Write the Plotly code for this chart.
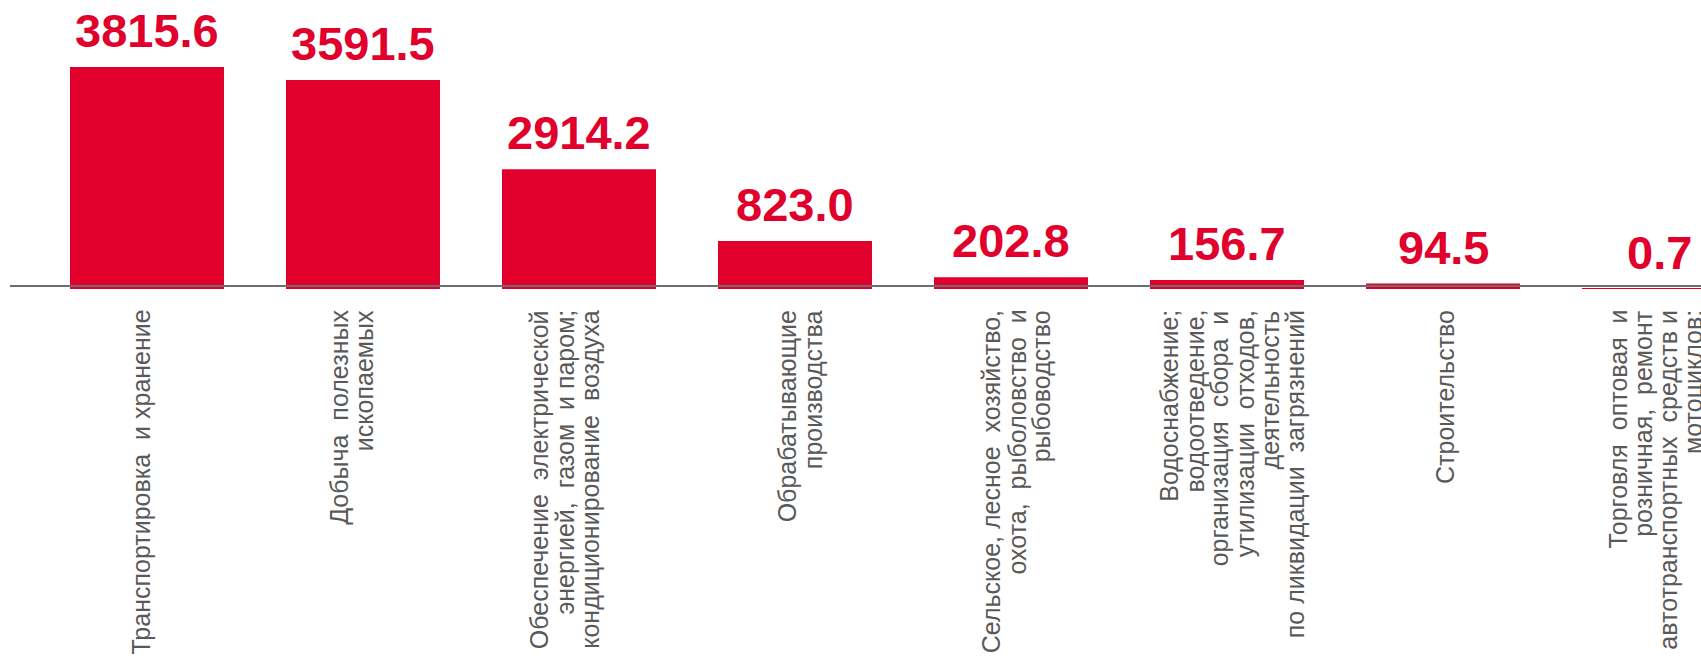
import plotly.graph_objects as go

# ---- data ----
categories = [
    "Транспортировка  и хранение",
    "Добыча  полезных\nископаемых",
    "Обеспечение  электрической\nэнергией,  газом  и паром;\nкондиционирование  воздуха",
    "Обрабатывающие\nпроизводства",
    "Сельское, лесное  хозяйство,\nохота,  рыболовство  и\nрыбоводство",
    "Водоснабжение;\nводоотведение,\nорганизация  сбора  и\nутилизации  отходов,\nдеятельность\nпо ликвидации  загрязнений",
    "Строительство",
    "Торговля  оптовая  и\nрозничная,  ремонт\nавтотранспортных  средств и\nмотоциклов;",
]
# bar heights as drawn in the picture
bar_values = [3815.6, 3591.5, 2060.0, 823.0, 202.8, 156.7, 94.5, 0.7]
# value labels as printed above the bars
value_labels = ["3815.6", "3591.5", "2914.2", "823.0", "202.8", "156.7", "94.5", "0.7"]

# ---- style ----
RED = "#e0002b"
GRAY_TXT = "#595959"
FONT = "Liberation Sans, Arial, sans-serif"
W, H = 1701, 662
zero_px = 289          # pixel row of the bars' base
axis_px = 286          # pixel row of the axis line
line_step = 25.3       # px between label lines
label_nudge = [-7, -12, -15, 5, 5, 5, 2, -4]

x_idx = list(range(len(categories)))

fig = go.Figure()
fig.add_trace(go.Bar(
    x=x_idx, y=bar_values,
    marker=dict(color=RED, line=dict(width=0)),
    width=0.713,
    hoverinfo="skip",
))

annotations = []
for i, (v, t) in enumerate(zip(bar_values, value_labels)):
    annotations.append(dict(
        x=i, y=v, xref="x", yref="y", text="<b>" + t + "</b>",
        showarrow=False, xanchor="center", yanchor="bottom", yshift=8,
        font=dict(family=FONT, size=47, color=RED),
    ))

for i, cat in enumerate(categories):
    lines = cat.split("\n")
    n = len(lines)
    for j, ln in enumerate(lines):
        annotations.append(dict(
            x=i, y=0, xref="x", yref="y",
            text=ln.replace("  ", "\u00a0\u00a0"),
            showarrow=False, textangle=-90,
            xanchor="center", yanchor="top",
            xshift=(j - (n - 1) / 2) * line_step + label_nudge[i],
            yshift=-19,
            font=dict(family=FONT, size=25, color=GRAY_TXT),
        ))

dom0 = (H - zero_px) / H
px_per_unit = (zero_px - 67) / bar_values[0]
ymax = zero_px / px_per_unit

fig.update_layout(
    width=W, height=H,
    margin=dict(l=10, r=0, t=0, b=0),
    paper_bgcolor="white", plot_bgcolor="white",
    showlegend=False,
    annotations=annotations,
    xaxis=dict(
        range=[(10 - 147) / 216, (W - 147) / 216],
        showticklabels=False, ticks="", showgrid=False, zeroline=False,
        showline=True, linecolor="#6e6e6e", linewidth=2,
        anchor="free", position=(H - axis_px) / H,
    ),
    yaxis=dict(
        domain=[dom0, 1], range=[0, ymax],
        visible=False, showgrid=False, zeroline=False,
    ),
)

fig.write_html("out.html")
